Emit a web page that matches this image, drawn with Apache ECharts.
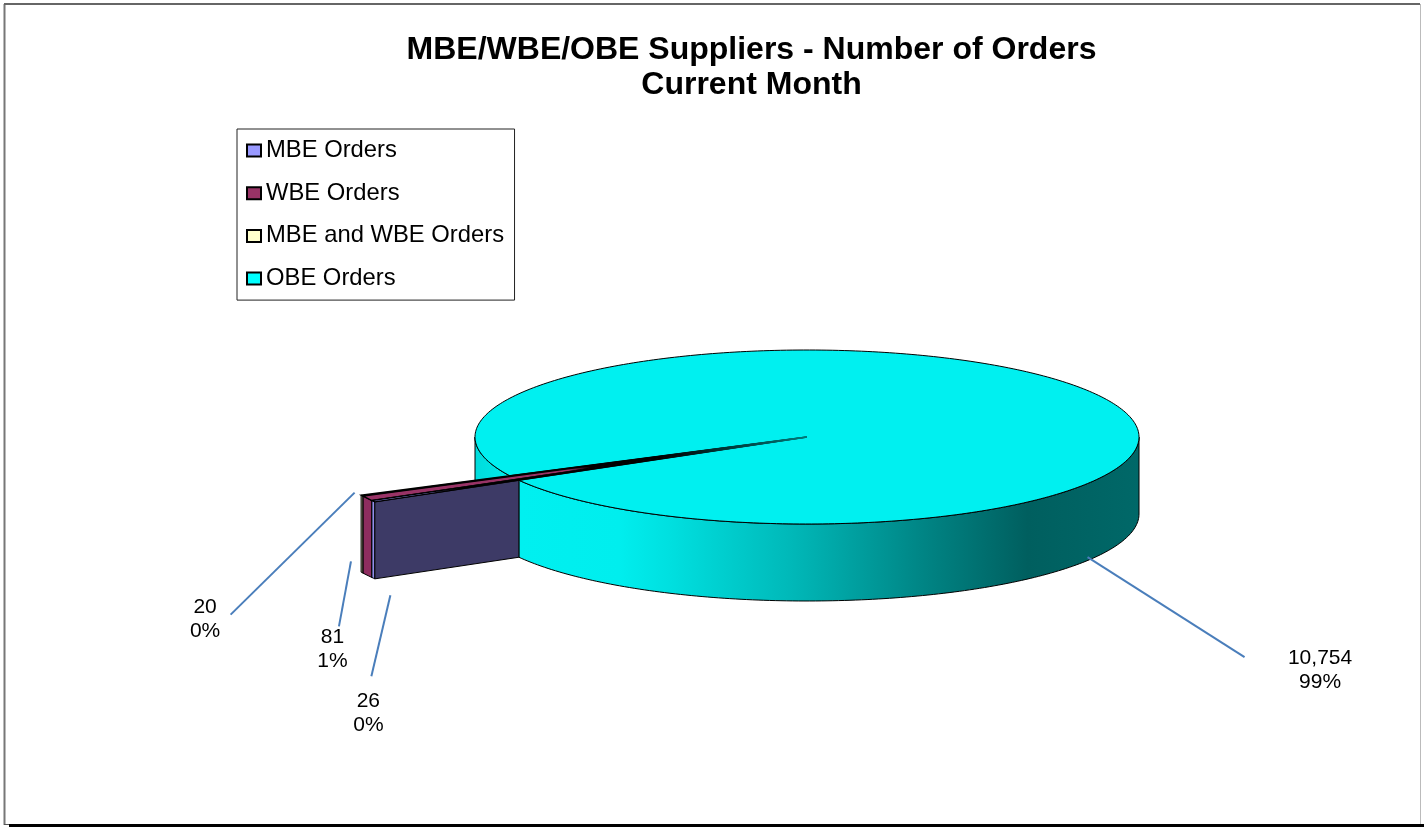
<!DOCTYPE html>
<html>
<head>
<meta charset="utf-8">
<style>html,body{margin:0;padding:0;background:#fff}#c{width:1424px;height:827px}</style>
<script src="https://cdn.jsdelivr.net/npm/echarts@6/dist/echarts.min.js"></script>
</head>
<body>
<div id="c"></div>
<script>
// ---- data ----
const titleLines = ['MBE/WBE/OBE Suppliers - Number of Orders', 'Current Month'];
const categories = ['MBE Orders', 'WBE Orders', 'MBE and WBE Orders', 'OBE Orders'];
const orderCounts = [26, 81, 20, 10754];

// ---- styles ----
const topColors = ['#9999ff', '#993366', '#b5b58f', '#00f0f0'];
const legendColors = ['#9999ff', '#993366', '#ffffcc', '#00ffff'];
const rimColors = ['#8f8fea', '#8e2d5f', '#a9a985', null];
const radialWallColors = ['#3d3a66', '#5c1f40', '#77775f', null];
const topFadeEnd = [700, 590, 430, null];   // x where a sliver's top face has gone to black
const leaderColor = '#4a7ebb';
const FONT = '"Liberation Sans", Arial, sans-serif';

// ---- pie projection ----
const pie = { cx: 807, cy: 437, rx: 332, ry: 87, depth: 77, explode: 1.5, startDeg: 150.2, sliverSpread: 0.8 };

// leader / label placement, relative to each slice's anchor point
const labelLayout = [
  { rim: 'bottom', deg: 0, from: [17, 17], to: [-2, 98], text: [-5, 135.5] },
  { rim: 'bottom', deg: 0, from: [-16.5, -14], to: [-28.5, 51], text: [-35, 74] },
  { rim: 'top', deg: 0, from: [-7.5, -3], to: [-131.5, 119], text: [-157, 124] },
  { rim: 'bottom', deg: 392, from: [-1, -3], to: [156, 97], text: [231.5, 110.5] }
];

const total = orderCounts.reduce((a, b) => a + b, 0);
const sliverSum = orderCounts.slice(0, 3).reduce((a, b) => a + b, 0);
const rad = d => d * Math.PI / 180;
function sweepOf(i) {
  const v = orderCounts[i];
  return i < 3 ? v / total * 360 * pie.sliverSpread : 360 - sliverSum / total * 360 * pie.sliverSpread;
}
function startOf(i) {
  let s = pie.startDeg;
  for (let k = 0; k < i; k++) s += sweepOf(k);
  return s;
}
function pt(deg, k, down) {
  return [pie.cx + pie.rx * k * Math.cos(rad(deg)), pie.cy + pie.ry * k * Math.sin(rad(deg)) + (down ? pie.depth : 0)];
}
function arc(a, b, k, down) {
  const out = [], n = Math.max(2, Math.ceil(Math.abs(b - a)));
  for (let j = 0; j <= n; j++) out.push(pt(a + (b - a) * j / n, k, down));
  return out;
}
function wall(a, b, k) {
  return arc(a, b, k, false).concat(arc(a, b, k, true).reverse());
}
function poly(points, fill, stroke, lineWidth) {
  return { type: 'polygon', shape: { points }, style: { fill, stroke: stroke || '#000', lineWidth: lineWidth || 1 }, silent: true };
}
function leaderAndLabel(i, value) {
  const L = labelLayout[i];
  const a = i < 3 ? startOf(i) + sweepOf(i) / 2 : L.deg;
  const base = i < 3 ? pt(a, pie.explode, L.rim === 'bottom') : pt(a, 1, true);
  const pct = Math.round(value / total * 100) + '%';
  return [
    { type: 'line', silent: true,
      shape: { x1: base[0] + L.from[0], y1: base[1] + L.from[1], x2: base[0] + L.to[0], y2: base[1] + L.to[1] },
      style: { stroke: leaderColor, lineWidth: 2 } },
    { type: 'text', silent: true,
      style: { x: base[0] + L.text[0], y: base[1] + L.text[1], text: value.toLocaleString('en-US') + '\n' + pct,
        fill: '#000', font: '21px ' + FONT, lineHeight: 24, align: 'center', verticalAlign: 'middle' } }
  ];
}
function grad(x1, x2, stops) {
  return new echarts.graphic.LinearGradient(x1, 0, x2, 0, stops, true);
}
function renderSlice(i) {
  return function (params, api) {
    const value = api.value(0);
    const s = startOf(i), sw = sweepOf(i), e = s + sw;
    const kids = [];
    if (i === 3) {
      // visible outer wall: left piece behind the slivers, and the long front wall
      kids.push(poly(wall(s, 180, 1),
        grad(pie.cx - pie.rx, pie.cx - pie.rx + 40, [{ offset: 0, color: '#00dcdc' }, { offset: 1, color: '#00ecec' }])));
      kids.push(poly(wall(360, s + sw, 1),
        grad(520, 1139, [
          { offset: 0, color: '#00f0f0' },
          { offset: 0.16, color: '#00eeee' },
          { offset: 0.24, color: '#00e0e0' },
          { offset: 0.44, color: '#00b8b8' },
          { offset: 0.65, color: '#008585' },
          { offset: 0.82, color: '#005f5f' },
          { offset: 1, color: '#006868' }
        ])));
      kids.push(poly([[pie.cx, pie.cy]].concat(arc(s, e, 1, false)), topColors[i]));
    } else {
      // outer rim of the exploded sliver
      kids.push(poly(wall(s, e, pie.explode), rimColors[i]));
      // radial face facing the viewer, from the pie's rim outward
      kids.push(poly([pt(s, 1, false), pt(s, pie.explode, false), pt(s, pie.explode, true), pt(s, 1, true)], radialWallColors[i]));
      // top face, from the apex out: hairline edges merge to black toward the apex, then thin to dark teal
      const fade = topFadeEnd[i];
      const x0 = pt(e, pie.explode, false)[0];
      const fill = grad(x0, fade, [
        { offset: 0, color: topColors[i] }, { offset: 0.9, color: topColors[i] }, { offset: 1, color: '#000' }
      ]);
      const stroke = grad(660, 807, [{ offset: 0, color: '#000' }, { offset: 1, color: '#007a7a' }]);
      kids.push(poly([[pie.cx, pie.cy]].concat(arc(s, e, pie.explode, false)), fill, stroke, 1.3));
    }
    return { type: 'group', children: kids.concat(leaderAndLabel(i, value)) };
  };
}

const chart = echarts.init(document.getElementById('c'), null, { renderer: 'canvas' });
const drawOrder = [3, 2, 1, 0];
chart.setOption({
  animation: false,
  backgroundColor: '#fff',
  title: {
    text: titleLines.join('\n'),
    left: 746.5, top: 28, textAlign: 'center',
    textStyle: { fontFamily: FONT, fontWeight: 'bold', fontSize: 32, lineHeight: 35, color: '#000' }
  },
  legend: {
    data: categories,
    orient: 'vertical',
    left: 237, top: 129,
    padding: [9, 10.5, 9, 9],
    itemGap: 17.7,
    itemWidth: 14, itemHeight: 12,
    icon: 'rect',
    backgroundColor: '#fff',
    borderColor: '#222', borderWidth: 1,
    selectedMode: false,
    itemStyle: { borderColor: '#000', borderWidth: 2 },
    textStyle: { fontFamily: FONT, fontSize: 23.8, lineHeight: 22, padding: [3, 0, 0, 0], color: '#000' }
  },
  series: drawOrder.map((i, n) => ({
    type: 'custom',
    name: categories[i],
    coordinateSystem: 'none',
    z: 2 + n,
    itemStyle: { color: legendColors[i] },
    data: [[orderCounts[i]]],
    renderItem: renderSlice(i)
  })),
  graphic: [
    { type: 'line', silent: true, shape: { x1: 4.5, y1: 4, x2: 4.5, y2: 825 }, style: { stroke: '#777', lineWidth: 2 } },
    { type: 'line', silent: true, shape: { x1: 4, y1: 4, x2: 1420, y2: 4 }, style: { stroke: '#666', lineWidth: 2 } },
    { type: 'line', silent: true, shape: { x1: 1420.5, y1: 4, x2: 1420.5, y2: 824 }, style: { stroke: '#bbb', lineWidth: 1 } },
    { type: 'line', silent: true, shape: { x1: 4, y1: 824.5, x2: 10, y2: 824.5 }, style: { stroke: '#555', lineWidth: 1 } },
    { type: 'rect', silent: true, shape: { x: 9, y: 824, width: 1415, height: 3 }, style: { fill: '#000' } }
  ]
});
</script>
</body>
</html>
